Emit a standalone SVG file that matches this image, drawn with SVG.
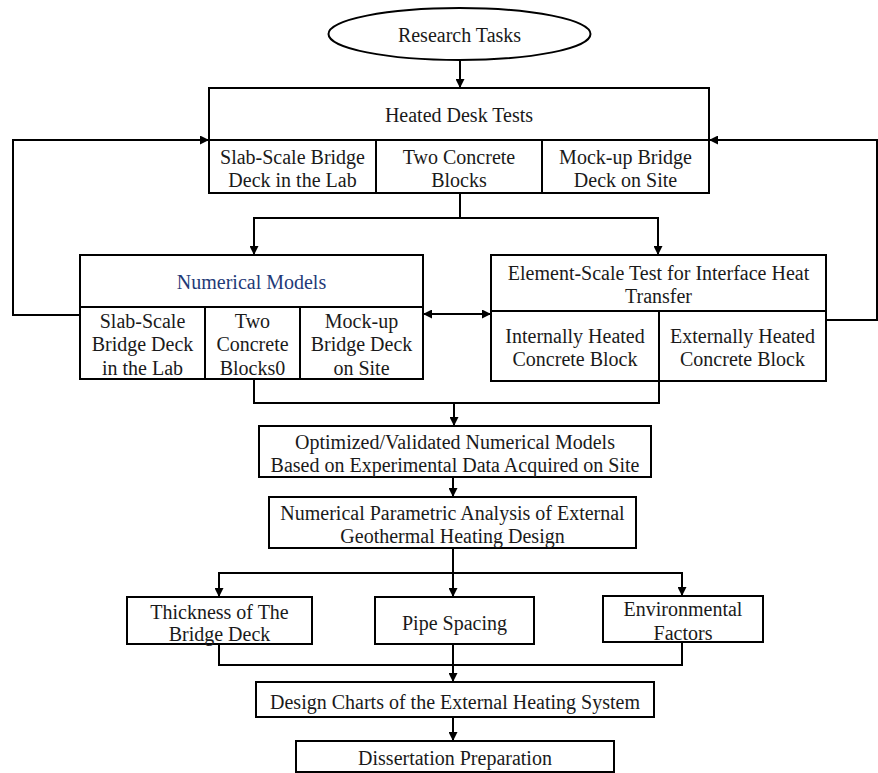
<svg xmlns="http://www.w3.org/2000/svg" width="878" height="773" viewBox="0 0 878 773">
<defs>
<marker id="ah" viewBox="0 0 10 10" refX="10" refY="5" markerWidth="9" markerHeight="9" markerUnits="userSpaceOnUse" orient="auto-start-reverse">
<path d="M0,0 L10,5 L0,10 z" fill="#000"/>
</marker>
<style>
.b{fill:#fff;stroke:#000;stroke-width:2}
.d{fill:none;stroke:#000;stroke-width:2}
.c{fill:none;stroke:#000;stroke-width:2}
.a{marker-end:url(#ah)}
text{font-family:"Liberation Serif","Times New Roman",serif;font-size:20px;fill:#1a1a1a;text-anchor:middle}
.blue{fill:#1f3a78}
</style>
</defs>
<rect width="878" height="773" fill="#fff"/>
<g id="connectors">
<path class="c a" d="M460,60 V88"/>
<path class="c a" d="M80,315 H13 V140 H209"/>
<path class="c a" d="M826,320 H877 V140 H709"/>
<path class="c a" d="M460,193 V218 H254 V255"/>
<path class="c a" d="M460,218 H658 V255"/>
<path class="c a" d="M423,314 H491" marker-start="url(#ah)"/>
<path class="c" d="M254,380 V403 H659 V381"/>
<path class="c a" d="M454,403 V426"/>
<path class="c a" d="M453,477 V497"/>
<path class="c" d="M453,548 V573"/>
<path class="c a" d="M453,573 H219 V597"/>
<path class="c a" d="M453,573 V597"/>
<path class="c a" d="M453,573 H682 V596"/>
<path class="c" d="M219,644 V665 H682 V642"/>
<path class="c a" d="M453,644 V682"/>
<path class="c a" d="M453,717 V741"/>
</g>
<g id="research-tasks">
<ellipse class="b" cx="459.5" cy="34" rx="131" ry="26"/>
<text x="459.5" y="42">Research Tasks</text>
</g>
<g id="heated-desk-tests">
<rect class="b" x="209" y="88" width="500" height="105"/>
<path class="d" d="M209,140 H709 M376,140 V193 M542,140 V193"/>
<text x="459" y="122">Heated Desk Tests</text>
<text x="292.5" y="164">Slab-Scale Bridge</text>
<text x="292.5" y="187">Deck in the Lab</text>
<text x="459" y="164">Two Concrete</text>
<text x="459" y="187">Blocks</text>
<text x="625.5" y="164">Mock-up Bridge</text>
<text x="625.5" y="187">Deck on Site</text>
</g>
<g id="numerical-models">
<rect class="b" x="80" y="255" width="343" height="124"/>
<path class="d" d="M80,307 H423 M205,307 V379 M300,307 V379"/>
<text class="blue" x="251.5" y="289">Numerical Models</text>
<text x="142.5" y="328">Slab-Scale</text>
<text x="142.5" y="351">Bridge Deck</text>
<text x="142.5" y="375">in the Lab</text>
<text x="252.5" y="328">Two</text>
<text x="252.5" y="351">Concrete</text>
<text x="252.5" y="375">Blocks0</text>
<text x="361.5" y="328">Mock-up</text>
<text x="361.5" y="351">Bridge Deck</text>
<text x="361.5" y="375">on Site</text>
</g>
<g id="element-scale-test">
<rect class="b" x="491" y="255" width="335" height="126"/>
<path class="d" d="M491,311 H826 M659,311 V381"/>
<text x="658.5" y="280">Element-Scale Test for Interface Heat</text>
<text x="658.5" y="303">Transfer</text>
<text x="575" y="343">Internally Heated</text>
<text x="575" y="366">Concrete Block</text>
<text x="742.5" y="343">Externally Heated</text>
<text x="742.5" y="366">Concrete Block</text>
</g>
<g id="optimized-models">
<rect class="b" x="259" y="426" width="392" height="51"/>
<text x="455" y="449">Optimized/Validated Numerical Models</text>
<text x="455" y="472">Based on Experimental Data Acquired on Site</text>
</g>
<g id="parametric-analysis">
<rect class="b" x="269" y="497" width="367" height="51"/>
<text x="452.5" y="520">Numerical Parametric Analysis of External</text>
<text x="452.5" y="543">Geothermal Heating Design</text>
</g>
<g id="thickness">
<rect class="b" x="127" y="597" width="185" height="47"/>
<text x="219.5" y="619">Thickness of The</text>
<text x="219.5" y="641">Bridge Deck</text>
</g>
<g id="pipe-spacing">
<rect class="b" x="375" y="597" width="159" height="47"/>
<text x="454.5" y="630">Pipe Spacing</text>
</g>
<g id="environmental-factors">
<rect class="b" x="603" y="596" width="160" height="46"/>
<text x="683" y="616">Environmental</text>
<text x="683" y="640">Factors</text>
</g>
<g id="design-charts">
<rect class="b" x="256" y="682" width="398" height="35"/>
<text x="455" y="709">Design Charts of the External Heating System</text>
</g>
<g id="dissertation">
<rect class="b" x="296" y="741" width="318" height="31"/>
<text x="455" y="765">Dissertation Preparation</text>
</g>
</svg>
